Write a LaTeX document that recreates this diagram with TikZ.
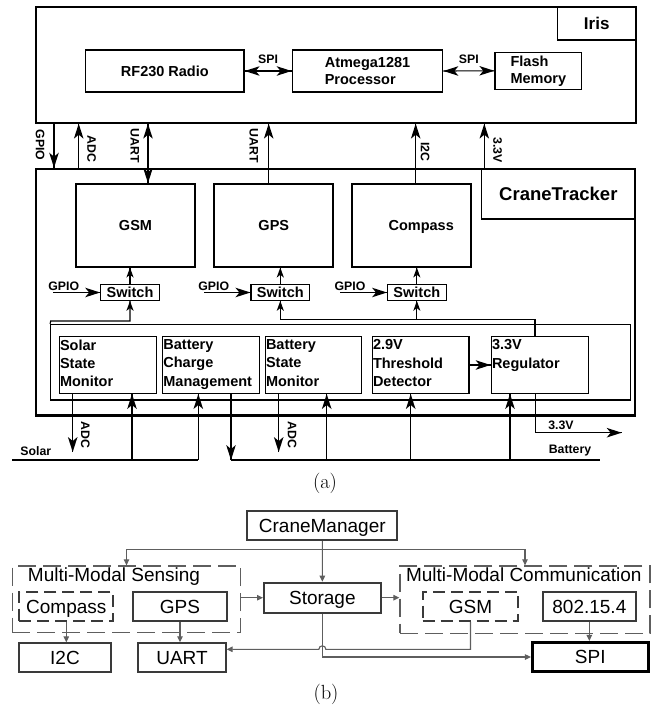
\documentclass[tikz,border=0pt]{standalone}
\usepackage{fontspec}
\newfontfamily\arial{Liberation Sans}
\usetikzlibrary{arrows.meta,calc}
\definecolor{dgray}{HTML}{3A3A3A}
\definecolor{lgray}{HTML}{5E5E5E}
\tikzset{
  fa/.style={font=\arial\bfseries\fontsize{14.5}{17}\selectfont},
  fs/.style={font=\arial\bfseries\fontsize{12.3}{14}\selectfont},
  conn/.style={line width=1.1pt},
  hu/.pic={\fill (0,0) -- (4.8,15) -- (0,11) -- (-4.8,15) -- cycle;},
  hd/.pic={\fill (0,0) -- (4.8,-15) -- (0,-11) -- (-4.8,-15) -- cycle;},
  hr/.pic={\fill (0,0) -- (-15,4.8) -- (-11,0) -- (-15,-4.8) -- cycle;},
  hl/.pic={\fill (0,0) -- (15,4.8) -- (11,0) -- (15,-4.8) -- cycle;},
  hus/.pic={\fill (0,0) -- (3.6,10) -- (0,7.2) -- (-3.6,10) -- cycle;},
  outerbox/.style={draw, line width=2.2pt, inner sep=0pt},
  lblbox/.style={draw, line width=1.4pt, inner sep=0pt},
  modbox/.style={draw, line width=1.8pt, inner sep=0pt, fa, text height=10.4pt, text depth=0pt},
  innbox/.style={draw, line width=1.4pt, inner sep=0pt, fa},
  swbox/.style={draw, line width=1.2pt, inner sep=0pt, fa, minimum width=58.5pt, minimum height=15.6pt, text height=10.4pt, text depth=0pt},
  pbox/.style={draw, line width=1.4pt, inner sep=0pt, minimum height=56.6pt},
  ptext/.style={anchor=north west, align=left, inner xsep=1.2pt, inner ysep=3.5pt, font=\arial\bfseries\fontsize{14.5}{18.3}\selectfont},
  vlab/.style={fs, rotate=-90, inner sep=0pt},
  tlab/.style={fs, inner sep=0pt},
  bfont/.style={font=\arial\fontsize{19}{22}\selectfont},
  bbox/.style={draw=dgray, line width=2pt, inner sep=0pt, bfont, text height=13.6pt, text depth=0pt},
  dbox/.style={draw=lgray, line width=1.3pt, dash pattern=on 18pt off 7pt, inner sep=0pt},
  ddbox/.style={draw=dgray, line width=2.3pt, dash pattern=on 12pt off 6pt, inner sep=0pt, bfont, text height=13.6pt, text depth=0pt},
  barr/.style={draw=lgray, line width=1.1pt, -{Triangle[length=6pt,width=5.5pt]}},
  capt/.style={font=\fontsize{20.5}{24}\selectfont, inner sep=0pt}
}
\begin{document}
\begin{tikzpicture}[x=1pt,y=-1pt]
\useasboundingbox (0,0) rectangle (656,707);
% ================= (a) =================
% Iris
\node[outerbox, line width=2pt, minimum width=599.7pt, minimum height=115.4pt] (iris) at (335.85,65) {};
\node[lblbox, minimum width=78pt, minimum height=32.7pt, font=\arial\bfseries\fontsize{17}{20}\selectfont] (irisl) at (596.7,23.65) {Iris};
\node[innbox, minimum width=158.3pt, minimum height=42pt, text height=10.4pt, text depth=0pt] (rf) at (164.85,71) {RF230 Radio};
\node[innbox, minimum width=150.4pt, minimum height=42pt, align=left] (atm) at (367.5,71) {Atmega1281\\Processor};
\node[innbox, minimum width=86.7pt, minimum height=37pt, align=left] (flash) at (538.35,70.8) {Flash\\Memory};
\draw[conn] (rf.east) pic {hl} -- (atm.west) pic {hr} node[midway, yshift=11.8pt, tlab] (spi1) {SPI};
\draw[conn] (atm.east) pic {hl} -- (flash.west) pic {hr} node[midway, yshift=11.8pt, tlab] (spi2) {SPI};

% CraneTracker
\node[outerbox, line width=2.6pt, minimum width=599pt, minimum height=246.3pt] (ct) at (335.5,292.15) {};
\node[lblbox, minimum width=153.3pt, minimum height=50pt, font=\arial\bfseries\fontsize{18.5}{22}\selectfont] (ctl) at (558.35,194) {CraneTracker};
\node[modbox, minimum width=119pt, minimum height=82.7pt] (gsm) at (135.5,225.35) {GSM};
\node[modbox, minimum width=119pt, minimum height=82.7pt] (gps) at (273.8,225.35) {GPS};
\node[modbox, minimum width=119pt, minimum height=82.7pt] (cmp) at (411.2,225.35) {\hspace*{20pt}Compass};

% Iris <-> CraneTracker connectors
\coordinate (xgpio) at (54,0);
\coordinate (xadc) at (78.7,0);
\coordinate (xu1) at (148,0);
\coordinate (xu2) at (268.7,0);
\coordinate (xi2c) at (415.7,0);
\coordinate (xv33) at (484.3,0);
\draw[conn] (iris.south -| xgpio) -- (ct.north -| xgpio) pic {hd};
\draw[conn] (ct.north -| xadc) -- (iris.south -| xadc) pic {hu};
\draw[conn] (iris.south -| xu1) pic {hu} -- (gsm.north -| xu1) pic {hd};
\draw[conn] (gps.north -| xu2) -- (iris.south -| xu2) pic {hu};
\draw[conn] (cmp.north -| xi2c) -- (iris.south -| xi2c) pic {hu};
\draw[conn] (ct.north -| xv33) -- (iris.south -| xv33) pic {hu};
\node[vlab] (lgpio) at (40,145) {GPIO};
\node[vlab] (ladc) at (91.7,149) {ADC};
\node[vlab] (lu1) at (134.7,145.8) {UART};
\node[vlab] (lu2) at (253.8,145.8) {UART};
\node[vlab] (li2c) at (425,151.7) {I2C};
\node[vlab] (lv33) at (497.5,150) {3.3V};

% Switches
\node[swbox] (sw1) at (130,292.5) {Switch};
\node[swbox] (sw2) at (280.3,292.5) {Switch};
\node[swbox] (sw3) at (416.85,292.5) {Switch};
\draw[conn] (sw1.north) -- (sw1.north |- gsm.south) pic {hus};
\draw[conn] (sw2.north) -- (sw2.north |- gps.south) pic {hus};
\draw[conn] (sw3.north) -- (sw3.north |- cmp.south) pic {hus};
\coordinate (gp1) at (53,292.5);
\coordinate (gp2) at (204,292.5);
\coordinate (gp3) at (340,292.5);
\draw[conn] (gp1) -- (sw1.west) pic {hr};
\draw[conn] (gp2) -- (sw2.west) pic {hr};
\draw[conn] (gp3) -- (sw3.west) pic {hr};
\node[tlab] (lg1) at (63.8,286) {GPIO};
\node[tlab] (lg2) at (213.8,286) {GPIO};
\node[tlab] (lg3) at (350,286) {GPIO};

% Power group
\node[draw, line width=1.2pt, inner sep=0pt, minimum width=580pt, minimum height=75.5pt] (pwr) at (340.7,362.25) {};
\node[pbox, minimum width=97.4pt] (ssm) at (108,365) {};
\node[pbox, minimum width=96.6pt] (bcm) at (211,365) {};
\node[pbox, minimum width=96.4pt] (bsm) at (313.5,365) {};
\node[pbox, minimum width=96.7pt] (thr) at (420.65,365) {};
\node[pbox, minimum width=97pt] (reg) at (539.8,365) {};
\node[ptext] (ssmt) at (ssm.north west) {Solar\\State\\Monitor};
\node[ptext] (bcmt) at (bcm.north west) {Battery\\Charge\\Management};
\node[ptext] (bsmt) at (bsm.north west) {Battery\\State\\Monitor};
\node[ptext] (thrt) at (thr.north west) {2.9V\\Threshold\\Detector};
\node[ptext] (regt) at (reg.north west) {3.3V\\Regulator};
\draw[conn] (thr.east) -- (reg.west) pic {hr};

% switch supplies
\coordinate (gsmsup) at (50.7,321);
\coordinate (regsup) at (535,319.3);
\draw[conn] (pwr.north west) -- (gsmsup) -| (sw1.south) pic {hus};
\draw[conn] (reg.north -| regsup) -- (regsup) -| (sw2.south) pic {hus};
\draw[conn] (sw3.south |- regsup) -- (sw3.south) pic {hus};

% bottom lines
\coordinate (solL) at (12.3,460);
\coordinate (batR) at (600,460);
\coordinate (adcend) at (0,452);
\coordinate (xs1) at (72.7,0);
\coordinate (xs2) at (132,0);
\coordinate (xs3) at (198.3,0);
\coordinate (xs4) at (231,0);
\coordinate (xs5) at (278.7,0);
\coordinate (xs6) at (326.7,0);
\coordinate (xs7) at (410.7,0);
\coordinate (xs8) at (510,0);
\coordinate (xs9) at (535.7,0);
\coordinate (v33) at (621.7,432.7);
\draw[conn] (solL) -- (solL -| xs3);
\draw[conn] (solL -| xs4) -- (batR);
\draw[conn] (ssm.south -| xs1) -- (adcend -| xs1) pic {hd};
\draw[conn] (solL -| xs2) -- (ssm.south -| xs2) pic {hu};
\draw[conn] (solL -| xs3) -- (bcm.south -| xs3) pic {hu};
\draw[conn] (bcm.south -| xs4) -- (solL -| xs4) pic {hd};
\draw[conn] (bsm.south -| xs5) -- (adcend -| xs5) pic {hd};
\draw[conn] (solL -| xs6) -- (bsm.south -| xs6) pic {hu};
\draw[conn] (solL -| xs7) -- (thr.south -| xs7) pic {hu};
\draw[conn] (solL -| xs8) -- (reg.south -| xs8) pic {hu};
\draw[conn] (reg.south -| xs9) |- (v33) pic {hr};
\node[tlab] (lsolar) at (35.8,451.3) {Solar};
\node[tlab] (lbat) at (570,451) {Battery};
\node[tlab] (lv33b) at (561,425.5) {3.3V};
\node[vlab] (ladc1) at (85.3,435) {ADC};
\node[vlab] (ladc2) at (292,434.8) {ADC};

\node[capt] (capa) at (325,483) {(a)};

% ================= (b) =================
\node[bbox, minimum width=150pt, minimum height=29.3pt] (mgr) at (322.3,525.35) {CraneManager};
\node[dbox, minimum width=228.4pt, minimum height=66.7pt] (sense) at (126.5,599.35) {};
\node[bfont, anchor=base, inner sep=0pt] (sensel) at (114,581.7) {Multi-Modal Sensing};
\node[ddbox, minimum width=94pt, minimum height=29pt] (cmpb) at (66.3,606.2) {Compass};
\node[bbox, minimum width=93.4pt, minimum height=29pt] (gpsb) at (180,606.2) {GPS};
\node[bbox, minimum width=92pt, minimum height=28.4pt] (i2c) at (65,657.5) {I2C};
\node[bbox, minimum width=87.4pt, minimum height=28.4pt] (uart) at (182,657.5) {UART};
\node[bbox, minimum width=116.7pt, minimum height=30pt] (stor) at (322.35,597.7) {Storage};
\node[dbox, minimum width=250pt, minimum height=67.3pt] (comm) at (525,599.65) {};
\node[bfont, anchor=base, inner sep=0pt] (comml) at (523.8,581.7) {Multi-Modal Communication};
\node[ddbox, minimum width=95.6pt, minimum height=29pt] (gsmb) at (470.5,606.2) {GSM};
\node[bbox, minimum width=93.3pt, minimum height=29pt] (n802) at (589.35,606.2) {802.15.4};
\node[bbox, draw=black, line width=2.8pt, minimum width=116pt, minimum height=29.4pt] (spi) at (590.3,657) {SPI};

\coordinate (bbr) at (322.3,549.3);
\coordinate (hopy) at (0,649.3);
\draw[barr] (mgr.south) -- (stor.north);
\draw[barr] (bbr) -| (sense.north);
\draw[barr] (bbr) -| (comm.north);
\draw[barr] (sense.east |- stor.west) -- (stor.west);
\draw[barr] (stor.east) -- (stor.east -| comm.west);
\draw[barr] (cmpb.south) -- (cmpb.south |- i2c.north);
\draw[barr] (gpsb.south) -- (gpsb.south |- uart.north);
\draw[barr] (n802.south) -- (n802.south |- spi.north);
\draw[barr] (stor.south) |- (spi.west);
\draw[barr] (gsmb.south) -- (gsmb.south |- hopy) -- ($(stor.south |- hopy)+(3.5,0)$) .. controls +(0,-4.6) and +(0,-4.6) .. ($(stor.south |- hopy)+(-3.5,0)$) -- (uart.east |- hopy);

\node[capt] (capb) at (326,694) {(b)};
\end{tikzpicture}
\end{document}
